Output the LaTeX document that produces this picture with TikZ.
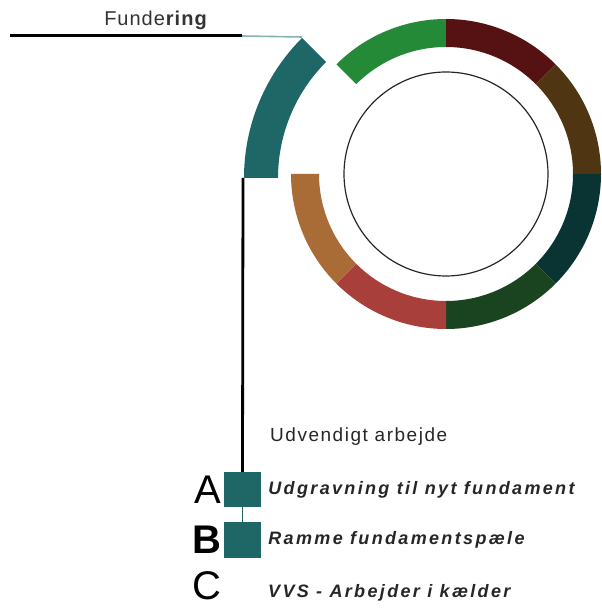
\documentclass[tikz,border=0pt]{standalone}
\usepackage{fontspec}
\setmainfont{Liberation Sans}
\usetikzlibrary{calc,positioning}
\definecolor{fundteal}{HTML}{1E6766}
\definecolor{fundlys}{HTML}{86B3B2}
\definecolor{ringgreen}{HTML}{258A38}
\definecolor{ringdarkred}{HTML}{561112}
\definecolor{ringbrown}{HTML}{4F3512}
\definecolor{ringpetrol}{HTML}{0A3434}
\definecolor{ringdarkgreen}{HTML}{1A4320}
\definecolor{ringred}{HTML}{A83F3B}
\definecolor{ringorange}{HTML}{A96C37}

\begin{document}
\begin{tikzpicture}[x=1pt,y=1pt,
			every node/.style={inner sep=0pt},
			fase/.style={draw=none,fill=fundteal,minimum width=37pt,minimum height=35pt},
			opgave/.style={anchor=west,text=black!85,font=\fontsize{18}{20}\selectfont\bfseries\itshape\addfontfeature{LetterSpace=13}},
			bogstav/.style={anchor=east,font=\fontsize{40}{40}\selectfont}]
			\useasboundingbox (0,0) rectangle (602,608);
			% ring of phases
			\coordinate (c) at (446,434);
			\foreach \col/\a in {ringgreen/135,ringdarkred/90,ringbrown/45,ringpetrol/0,
				ringdarkgreen/-45,ringred/-90,ringorange/-135}
			{\fill[\col,shift={(c)}] (\a:155) arc[start angle=\a,delta angle=-45,radius=155]
				-- ({\a-45}:127) arc[start angle=\a-45,delta angle=45,radius=127] -- cycle;}
			\draw[line width=1.2pt,black!85] (c) circle[radius=102];
			% pulled out segment
			\fill[fundteal,shift={(442,430)}] (135:198) arc[start angle=135,end angle=180,radius=198]
				-- (180:164) arc[start angle=180,end angle=135,radius=164] -- cycle;
			\coordinate (fundtop) at (302,571);
			\coordinate (fundbot) at (243,430);
			% title
			\node[text=black!80] (titel) at (156,588) {\fontsize{20}{22}\selectfont\addfontfeature{LetterSpace=5}Funde\textbf{ring}};
			\coordinate (linstart) at (10,572);
			\coordinate (linslut) at (242,572);
			\draw[line width=3pt] (linstart) -- (linslut);
			\draw[fundlys,line width=1.6pt] (linslut) -- (fundtop);
			% legend
			\node[anchor=west,text=black!85,font=\fontsize{19}{20}\selectfont\addfontfeature{LetterSpace=8}] (ude) at (270,171) {Udvendigt arbejde};
			\node[fase] (boxA) at (242.5,118.5) {};
			\node[fase,minimum height=36pt] (boxB) at (242.5,68) {};
			\draw[line width=2.8pt] (fundbot) -- (boxA.north);
			\draw[fundteal,line width=1pt] (boxA.south) -- (boxB.north);
			\node[bogstav,left=2pt of boxA] (lA) {A};
			\node[bogstav,left=2pt of boxB,font=\fontsize{40}{40}\selectfont\bfseries] (lB) {B};
			\node[bogstav,anchor=base east] (lC) at (222,9) {C};
			\node[opgave,right=7pt of boxA] (tA) {Udgravning til nyt fundament};
			\node[opgave,right=7pt of boxB] (tB) {Ramme fundamentspæle};
			\node[opgave] (tC) at (268,15) {VVS - Arbejder i kælder};
		\end{tikzpicture}
\end{document}
